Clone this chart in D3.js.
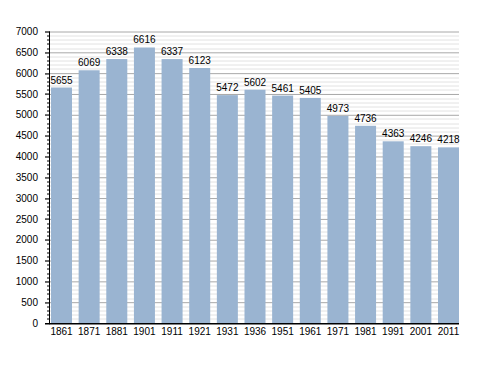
<!DOCTYPE html>
<html>
<head>
<meta charset="utf-8">
<script src="https://cdn.jsdelivr.net/npm/d3@7"></script>
<style>
    body { margin: 0; background: #fff; }
    svg text { font-family: 'Liberation Sans', Arial, sans-serif; font-size: 10px; fill: #000; }
</style>
</head>
<body>
<div id="chart"></div>
<script>
var years = ['1861', '1871', '1881', '1901', '1911', '1921', '1931', '1936',
             '1951', '1961', '1971', '1981', '1991', '2001', '2011'];
var population = [5655, 6069, 6338, 6616, 6337, 6123, 5472, 5602,
                  5461, 5405, 4973, 4736, 4363, 4246, 4218];
var yMajorTicks = [0, 500, 1000, 1500, 2000, 2500, 3000, 3500,
                   4000, 4500, 5000, 5500, 6000, 6500, 7000];

(function() {
    var width = 488, height = 373;
    var margin = {top: 31.5, right: 29, bottom: 50, left: 50};
    var innerW = width - margin.left - margin.right,
        innerH = height - margin.top - margin.bottom;

    var svg = d3.select('#chart').append('svg')
                .attr('width', width)
                .attr('height', height);
    var chart = svg.append('g')
                .attr('transform', 'translate(' + margin.left + ',' + margin.top + ')');

    // scales
    var xScale = d3.scaleBand()
                    .domain(years)
                    .range([1, innerW])
                    .paddingInner(0.24)
                    .paddingOuter(0);
    var yScale = d3.scaleLinear()
                    .domain([0, 7000])
                    .range([innerH, 0]);

    // minor gridlines every 100
    var minor = d3.range(100, 7001, 100).filter(function(d) { return d % 500 !== 0; });
    chart.selectAll('line.minor')
            .data(minor)
            .enter()
            .append('line').classed('minor', true)
            .attr('x1', 0).attr('x2', innerW)
            .attr('y1', function(d) { return Math.round(yScale(d)) + 0.5; })
            .attr('y2', function(d) { return Math.round(yScale(d)) + 0.5; })
            .style('stroke', '#e2e2e2')
            .style('stroke-width', 1);

    // y axis with major gridlines
    function customYAxis(g) {
        g.call(yAxis);
        g.select('.domain').remove();
        g.selectAll('.tick line')
            .attr('x1', -5)
            .style('stroke', function(d) { return d === 0 ? '#000' : '#a8a8a8'; });
        g.selectAll('.tick text')
            .attr('x', -12)
            .style('font-size', '10px');
    }
    var yAxis = d3.axisLeft()
                    .scale(yScale)
                    .tickValues(yMajorTicks)
                    .tickSize(-innerW)
                    .tickFormat(d3.format('d'));
    chart.append('g').call(customYAxis);

    // bars
    chart.selectAll('rect.bar')
            .data(population)
            .enter()
            .append('rect').classed('bar', true)
            .attr('x', function(d, i) { return xScale(years[i]); })
            .attr('width', xScale.bandwidth())
            .attr('y', function(d) { return yScale(d); })
            .attr('height', function(d) { return innerH - yScale(d); })
            .style('fill', '#9ab4d1');

    // small ticks on the y axis, every 100
    chart.selectAll('line.ytick')
            .data(d3.range(0, 7001, 100))
            .enter()
            .append('line').classed('ytick', true)
            .attr('x1', function(d) { return d % 500 === 0 ? -5 : -3; })
            .attr('x2', 0)
            .attr('y1', function(d) { return Math.round(yScale(d)) + 0.5; })
            .attr('y2', function(d) { return Math.round(yScale(d)) + 0.5; })
            .style('stroke', '#000');

    // axis lines
    chart.append('line')
            .attr('x1', -0.5).attr('x2', -0.5)
            .attr('y1', 0).attr('y2', innerH)
            .style('stroke', '#000');
    chart.append('line')
            .attr('x1', -0.5).attr('x2', innerW)
            .attr('y1', Math.round(innerH) + 0.5).attr('y2', Math.round(innerH) + 0.5)
            .style('stroke', '#000');

    // x labels
    chart.selectAll('text.xlabel')
            .data(years)
            .enter()
            .append('text').classed('xlabel', true)
            .text(function(d) { return d; })
            .attr('x', function(d) { return xScale(d) + xScale.bandwidth() / 2; })
            .attr('y', innerH + 12)
            .attr('text-anchor', 'middle');

    // value labels
    chart.selectAll('text.value')
            .data(population)
            .enter()
            .append('text').classed('value', true)
            .text(function(d) { return d; })
            .attr('x', function(d, i) { return xScale(years[i]) + xScale.bandwidth() / 2; })
            .attr('y', function(d) { return yScale(d) - 4; })
            .attr('text-anchor', 'middle');
}());
</script>
</body>
</html>
